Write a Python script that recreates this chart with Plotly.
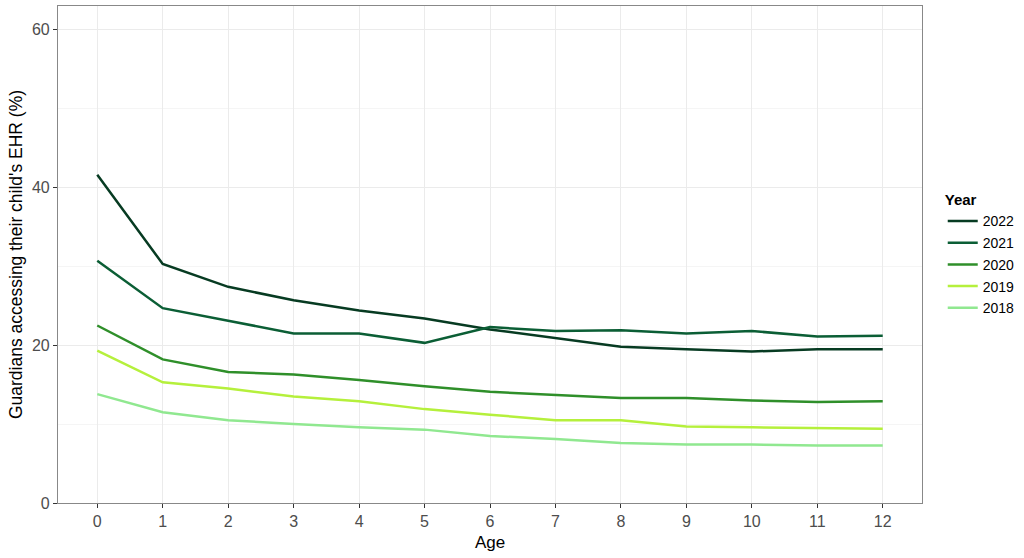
import plotly.graph_objects as go

ages = list(range(13))
years = ["2022", "2021", "2020", "2019", "2018"]
v2022 = [41.6, 30.3, 27.4, 25.7, 24.4, 23.4, 22.0, 20.9, 19.8, 19.5, 19.2, 19.5, 19.5]
v2021 = [30.7, 24.7, 23.1, 21.5, 21.5, 20.3, 22.3, 21.8, 21.9, 21.5, 21.8, 21.1, 21.2]
v2020 = [22.5, 18.2, 16.6, 16.3, 15.6, 14.8, 14.1, 13.7, 13.3, 13.3, 13.0, 12.8, 12.9]
v2019 = [19.3, 15.3, 14.5, 13.5, 12.9, 11.9, 11.2, 10.5, 10.5, 9.7, 9.6, 9.5, 9.4]
v2018 = [13.8, 11.5, 10.5, 10.0, 9.6, 9.3, 8.5, 8.1, 7.6, 7.4, 7.4, 7.3, 7.3]
values = [v2022, v2021, v2020, v2019, v2018]
colors = ["#073b22", "#0b5e35", "#2f8f2a", "#b5f03c", "#90e890"]

fig = go.Figure()
for yr, vals, col in zip(years, values, colors):
    fig.add_trace(go.Scatter(x=ages, y=vals, mode="lines", name=yr,
                             legendgroup=yr,
                             line=dict(color=col, width=2.5)))

font_family = "Arial, Liberation Sans, sans-serif"
fig.update_layout(
    width=1024, height=558,
    margin=dict(l=58, r=102, t=6, b=55, autoexpand=False),
    paper_bgcolor="white", plot_bgcolor="white",
    font=dict(family=font_family, color="black"),
    showlegend=True,
    legend=dict(
        title=dict(text="<b>Year</b>", font=dict(size=15, color="black")),
        font=dict(size=14, color="black"),
        x=1.024, xanchor="left", y=0.638, yanchor="top",
        tracegroupgap=0.5, itemwidth=30,
        bgcolor="rgba(0,0,0,0)",
    ),
    xaxis=dict(
        range=[-0.6, 12.6], tickmode="array", tickvals=ages,
        ticktext=[str(a) for a in ages],
        showgrid=True, gridcolor="#ebebeb", gridwidth=1,
        zeroline=False, automargin=False,
        showline=True, linecolor="#888888", linewidth=1.2, mirror=True,
        ticks="outside", ticklen=4, tickcolor="#333333",
        tickfont=dict(size=16, color="#4d4d4d"),
        title=dict(text="Age", font=dict(size=17, color="black"), standoff=6),
    ),
    yaxis=dict(
        range=[0, 63], tickmode="array", tickvals=[0, 20, 40, 60],
        showgrid=True, gridcolor="#ebebeb", gridwidth=1,
        minor=dict(tickvals=[10, 30, 50], showgrid=True, gridcolor="#f5f5f5", gridwidth=1),
        zeroline=False, automargin=False,
        showline=True, linecolor="#888888", linewidth=1.2, mirror=True,
        ticks="outside", ticklen=4, tickcolor="#333333",
        tickfont=dict(size=16, color="#4d4d4d"),
        title=dict(text="Guardians accessing their child's EHR (%)", font=dict(size=17.5, color="black"), standoff=4),
    ),
)

fig.write_html("out.html", config={"displayModeBar": False},
               post_script="document.body.style.margin='0px';document.body.style.overflow='hidden';")
